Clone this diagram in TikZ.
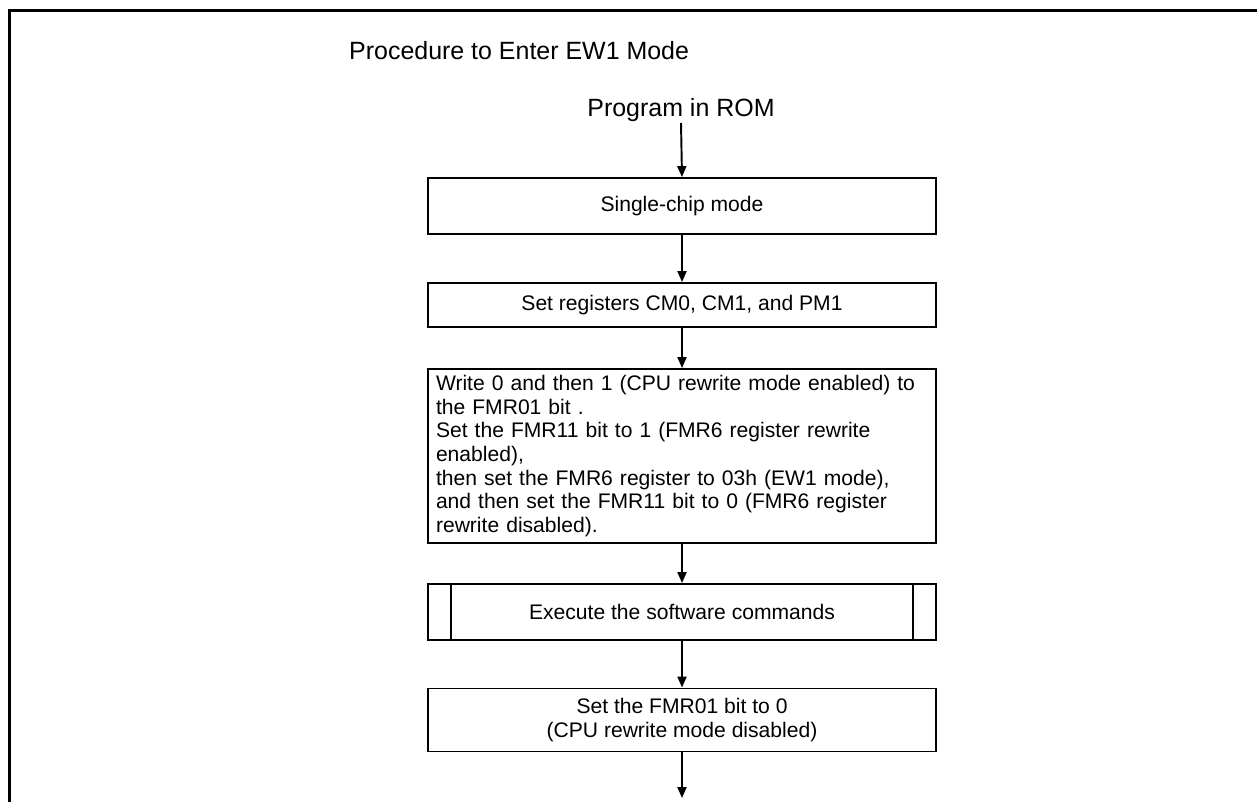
\documentclass[tikz,border=0pt]{standalone}
\usepackage{fontspec}
\setmainfont{Liberation Sans}
\usetikzlibrary{arrows.meta, positioning, calc}

\begin{document}
\begin{tikzpicture}[
  font=\fontsize{12}{13.5}\selectfont,
  flowbox/.style={
    draw=black,
    line width=1.1pt,
    fill=white,
    align=center,
    inner sep=0pt,
    minimum width=10.16cm
  },
  textbox/.style={
    draw=black,
    line width=1.1pt,
    fill=white,
    align=left,
    inner xsep=0.16cm,
    inner ysep=0pt,
    text width=9.84cm
  },
  bigtext/.style={
    font=\fontsize{14.2}{16}\selectfont
  },
  arrow/.style={
    -{Triangle[length=6.2pt,width=5.1pt]},
    line width=1.1pt
  }
]

\useasboundingbox (0,0) rectangle (25.14,-16.04);
\draw[line width=1.7pt] (0.19,-16.04) -- (0.19,-0.21) -- (25.14,-0.21);

\node[bigtext, anchor=west] (title) at (6.86,-1.02)
  {Procedure to Enter EW1 Mode};
\node[bigtext, inner ysep=0.5pt] (prog) at (13.62,-2.2)
  {Program in ROM};

\node[flowbox, minimum height=1.12cm] (single) at (13.64,-4.12)
  {Single-chip mode};

\node[flowbox, minimum height=0.88cm] (regs) at (13.64,-6.1)
  {Set registers CM0, CM1, and PM1};

\node[textbox, minimum height=3.48cm] (rewrite) at (13.64,-9.12)
  {Write 0 and then 1 (CPU rewrite mode enabled) to\\
   the FMR01 bit .\\
   Set the FMR11 bit to 1 (FMR6 register rewrite\\
   enabled),\\
   then set the FMR6 register to 03h (EW1 mode),\\
   and then set the FMR11 bit to 0 (FMR6 register\\
   rewrite disabled).};

\node[flowbox, minimum height=1.12cm] (exec) at (13.64,-12.24)
  {Execute the software commands};
\draw[line width=1.1pt] ([xshift=0.48cm]exec.north west) -- ([xshift=0.48cm]exec.south west);
\draw[line width=1.1pt] ([xshift=-0.48cm]exec.north east) -- ([xshift=-0.48cm]exec.south east);

\node[flowbox, minimum height=1.26cm] (clear) at (13.64,-14.4)
  {Set the FMR01 bit to 0\\(CPU rewrite mode disabled)};

\coordinate (out) at (13.64,-15.96);

\draw[arrow] (prog.south) -- (single.north);
\draw[arrow] (single.south) -- (regs.north);
\draw[arrow] (regs.south) -- (rewrite.north);
\draw[arrow] (rewrite.south) -- (exec.north);
\draw[arrow] (exec.south) -- (clear.north);
\draw[arrow] (clear.south) -- (out);

\end{tikzpicture}
\end{document}
